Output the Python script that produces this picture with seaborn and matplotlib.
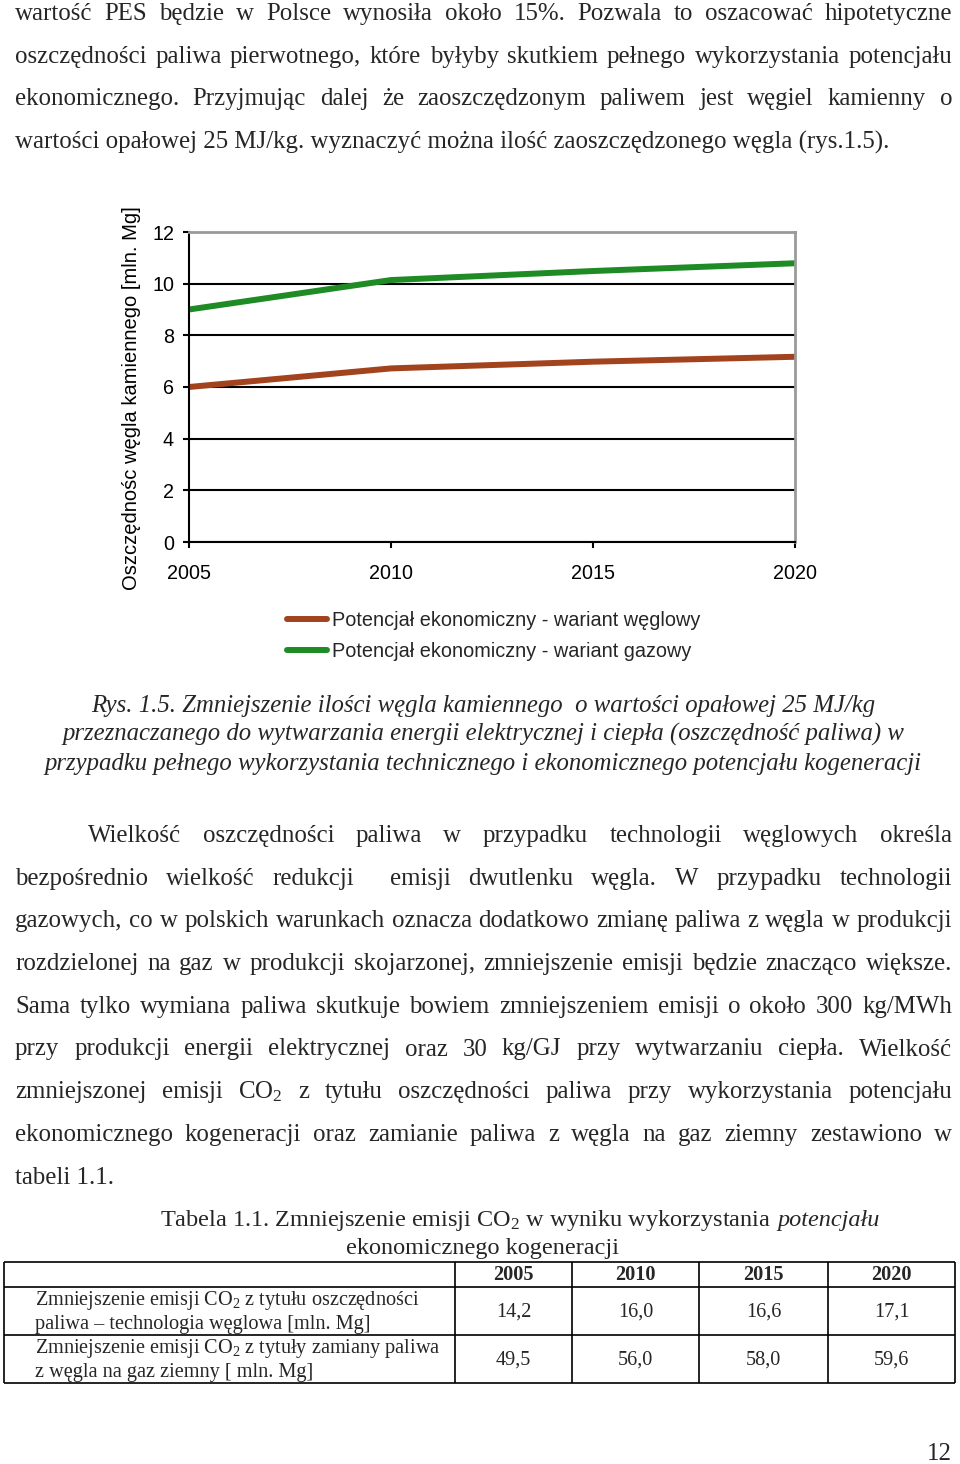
import matplotlib
matplotlib.use('Agg')
import matplotlib.pyplot as plt
import seaborn as sns
import pandas as pd

sns.set_theme(style='white')
plt.rcParams['font.family'] = ['Liberation Sans', 'DejaVu Sans']
plt.rcParams['mathtext.fontset'] = 'custom'
plt.rcParams['mathtext.rm'] = 'Liberation Serif'
plt.rcParams['mathtext.it'] = 'Liberation Serif:italic'
plt.rcParams['mathtext.bf'] = 'Liberation Serif:bold'

# --- chart data (rys. 1.5) ---
years = [2005, 2010, 2015, 2020]
coal_variant = [6.0, 6.72, 6.98, 7.17]
gas_variant = [9.0, 10.14, 10.49, 10.79]
series_labels = ['Potencjał ekonomiczny - wariant węglowy',
                 'Potencjał ekonomiczny - wariant gazowy']
series_colors = ['#A2431E', '#1F8B24']
y_label = 'Oszczędnośc węgla kamiennego [mln. Mg]'

# --- table data (tabela 1.1) ---
table_years = ['2005', '2010', '2015', '2020']
row_coal = ['14,2', '16,0', '16,6', '17,1']
row_gas = ['49,5', '56,0', '58,0', '59,6']
row_coal_label = ['Zmniejszenie emisji CO$_\\mathrm{2}$ z tytułu oszczędności',
                  'paliwa – technologia węglowa [mln. Mg]']
row_gas_label = ['Zmniejszenie emisji CO$_\\mathrm{2}$ z tytuły zamiany paliwa',
                 'z węgla na gaz ziemny [ mln. Mg]']

# --- page text ---
para1 = ['wartość PES będzie w Polsce wynosiła około 15%. Pozwala to oszacować hipotetyczne',
         'oszczędności paliwa pierwotnego, które byłyby skutkiem pełnego wykorzystania potencjału',
         'ekonomicznego. Przyjmując dalej że zaoszczędzonym paliwem jest węgiel kamienny o',
         'wartości opałowej 25 MJ/kg. wyznaczyć można ilość zaoszczędzonego węgla (rys.1.5).']
caption = ['Rys. 1.5. Zmniejszenie ilości węgla kamiennego  o wartości opałowej 25 MJ/kg',
           'przeznaczanego do wytwarzania energii elektrycznej i ciepła (oszczędność paliwa) w',
           'przypadku pełnego wykorzystania technicznego i ekonomicznego potencjału kogeneracji']
para2 = ['Wielkość oszczędności paliwa w przypadku technologii węglowych określa',
         'bezpośrednio wielkość redukcji  emisji dwutlenku węgla. W przypadku technologii',
         'gazowych, co w polskich warunkach oznacza dodatkowo zmianę paliwa z węgla w produkcji',
         'rozdzielonej na gaz w produkcji skojarzonej, zmniejszenie emisji będzie znacząco większe.',
         'Sama tylko wymiana paliwa skutkuje bowiem zmniejszeniem emisji o około 300 kg/MWh',
         'przy produkcji energii elektrycznej oraz 30 kg/GJ przy wytwarzaniu ciepła. Wielkość',
         'zmniejszonej emisji CO$_\\mathrm{2}$ z tytułu oszczędności paliwa przy wykorzystania potencjału',
         'ekonomicznego kogeneracji oraz zamianie paliwa z węgla na gaz ziemny zestawiono w',
         'tabeli 1.1.']

SERIF = ['Liberation Serif', 'DejaVu Serif']
BODY = 17.9

fig = plt.figure(figsize=(9.6, 14.64), dpi=100)
page = fig.add_axes([0, 0, 1, 1])
page.set_xlim(0, 960)
page.set_ylim(1464, 0)
page.axis('off')
rend = fig.canvas.get_renderer()


def put_line(text, y, x0=15, x1=952, justify=True, size=BODY, **kw):
    if not justify:
        page.text(x0, y, text, va='baseline', ha='left', family=SERIF, size=size, **kw)
        return
    words = text.split(' ')
    arts = [page.text(0, y, w, va='baseline', ha='left', family=SERIF, size=size, **kw)
            for w in words]
    widths = [a.get_window_extent(rend).width for a in arts]
    gap = (x1 - x0 - sum(widths)) / (len(words) - 1)
    x = x0
    for a, w in zip(arts, widths):
        a.set_x(x)
        x += w + gap


def put_runs(runs, y, cx, size=BODY, gap=0):
    arts = [page.text(0, y, t, va='baseline', ha='left', family=SERIF, size=size, style=st)
            for t, st in runs]
    widths = [a.get_window_extent(rend).width for a in arts]
    x = cx - (sum(widths) + gap * (len(arts) - 1)) / 2
    for a, w in zip(arts, widths):
        a.set_x(x)
        x += w + gap


# paragraph 1
for i, line in enumerate(para1):
    put_line(line, 20 + i * 42.7, justify=(i < len(para1) - 1))

# caption
for i, line in enumerate(caption):
    page.text(483, 712 + i * 29, line, ha='center', va='baseline',
              family=SERIF, size=17.8, style='italic')

# paragraph 2
for i, line in enumerate(para2):
    last = i == len(para2) - 1
    put_line(line, 842 + i * 42.7, x0=88 if i == 0 else 15, justify=not last)

# table title
put_runs([('Tabela 1.1. Zmniejszenie emisji CO$_\\mathrm{2}$ w wyniku wykorzystania', 'normal'),
          ('potencjału', 'italic')], 1226, 520, size=17.5, gap=6)
put_runs([('ekonomicznego kogeneracji', 'normal')], 1254, 483, size=17.5)

# table grid
col_x = [4, 455, 572, 699, 828, 955]
row_y = [1262, 1287, 1335, 1383]
page.hlines(row_y, col_x[0], col_x[-1], color='black', lw=1.2)
page.vlines(col_x, row_y[0], row_y[-1], color='black', lw=1.2)
TS = 14.6
for j, yr in enumerate(table_years):
    cx = (col_x[j + 1] + col_x[j + 2]) / 2
    page.text(cx, 1280, yr, ha='center', va='baseline', family=SERIF, size=TS, weight='bold')
    page.text(cx, 1317, row_coal[j], ha='center', va='baseline', family=SERIF, size=TS)
    page.text(cx, 1365, row_gas[j], ha='center', va='baseline', family=SERIF, size=TS)
for k, ln in enumerate(row_coal_label):
    page.text(35, 1305 + k * 24, ln, ha='left', va='baseline', family=SERIF, size=TS)
for k, ln in enumerate(row_gas_label):
    page.text(35, 1353 + k * 24, ln, ha='left', va='baseline', family=SERIF, size=TS)

# page number
page.text(952, 1460, '12', ha='right', va='baseline', family=SERIF, size=BODY)

# --- chart ---
ax = fig.add_axes([189 / 960, 1 - 542 / 1464, 606 / 960, 310 / 1464])
df = pd.DataFrame({
    'rok': years * 2,
    'oszczednosc': coal_variant + gas_variant,
    'wariant': [series_labels[0]] * len(years) + [series_labels[1]] * len(years),
})
sns.lineplot(data=df, x='rok', y='oszczednosc', hue='wariant', hue_order=series_labels,
             palette=dict(zip(series_labels, series_colors)), linewidth=4.3, ax=ax)
ax.set_xlim(2005, 2020)
ax.set_ylim(0, 12)
ax.set_xticks(years)
ax.set_yticks(range(0, 13, 2))
ax.yaxis.grid(True, color='black', lw=1.5)
ax.xaxis.grid(False)
for s in ['left', 'bottom']:
    ax.spines[s].set_color('black')
    ax.spines[s].set_linewidth(1.5)
for s in ['top', 'right']:
    ax.spines[s].set_color('#9a9a9a')
    ax.spines[s].set_linewidth(2)
ax.tick_params(axis='both', direction='out', length=4.3, width=1.5, color='black',
               labelsize=14.2, labelcolor='black')
ax.tick_params(axis='y', left=True, pad=6.5)
ax.tick_params(axis='x', bottom=True, pad=11.5)
ax.set_xlabel('')
ax.set_ylabel(y_label, fontsize=14.5, color='black')
ax.yaxis.set_label_coords(-0.079, 0.465)

handles, labels = ax.get_legend_handles_labels()
ax.legend(handles, labels, loc='upper left', bbox_to_anchor=(287 / 960, 1 - 611 / 1464),
          bbox_transform=fig.transFigure, frameon=False, fontsize=14.3, borderpad=0,
          borderaxespad=0, handlelength=2.0, handletextpad=0.25, labelspacing=0.6)

fig.savefig('out.png', dpi=100)
